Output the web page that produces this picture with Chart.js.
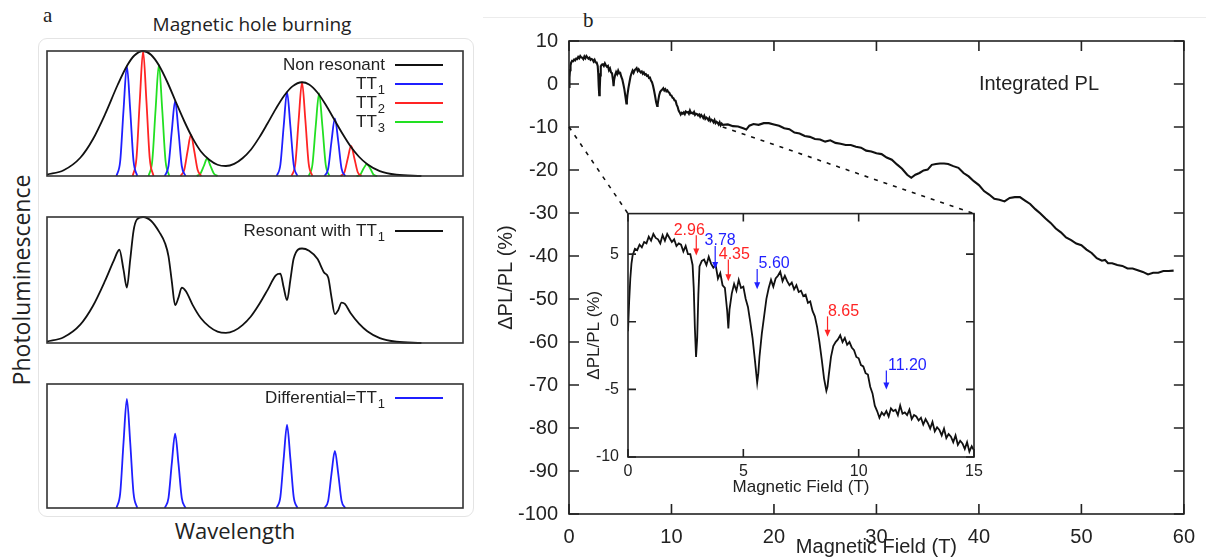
<!DOCTYPE html>
<html>
<head>
<meta charset="utf-8">
<script src="https://cdn.jsdelivr.net/npm/chart.js@4.4.1/dist/chart.umd.min.js"></script>
<style>
  body { margin: 0; background: #fff; width: 1206px; height: 559px; overflow: hidden; position: relative; font-family: "Liberation Sans", Arial, sans-serif; color: #222; }
  .abs { position: absolute; }
  .box { position: absolute; }
  #frameA { left: 38px; top: 38px; width: 434px; height: 477px; border: 1px solid #e4e4e4; border-radius: 9px; }
  #topRule { left: 483px; top: 17px; width: 723px; height: 1px; background: #ececec; }
  .serif { font-family: "Liberation Serif", "Times New Roman", serif; font-size: 21px; line-height: 1; }
  .sans { font-family: "Open Sans", "Noto Sans", sans-serif; line-height: 1; white-space: nowrap; }
</style>
</head>
<body>
<div class="abs" id="frameA"></div>
<div class="abs" id="topRule"></div>
<div class="abs serif" style="left:43px;top:5px;">a</div>
<div class="abs serif" style="left:583px;top:10px;">b</div>
<div class="abs sans" style="left:252px;top:15px;font-size:19px;transform:translateX(-50%);">Magnetic hole burning</div>
<div class="abs sans" style="left:235px;top:519px;font-size:22px;transform:translateX(-50%);">Wavelength</div>
<div class="abs sans" style="left:21px;top:280px;font-size:23px;transform:translate(-50%,-50%) rotate(-90deg);">Photoluminescence</div>

<div class="box" style="left:45px;top:49px;width:420px;height:129px;"><canvas id="sub1"></canvas></div>
<div class="box" style="left:45px;top:215px;width:420px;height:130px;"><canvas id="sub2"></canvas></div>
<div class="box" style="left:45px;top:382px;width:420px;height:128px;"><canvas id="sub3"></canvas></div>

<div class="box" style="left:483px;top:0px;width:723px;height:559px;"><canvas id="main"></canvas></div>
<div class="box" style="left:583px;top:195px;width:410px;height:305px;"><canvas id="inset"></canvas></div>

<script>
// ---- panel a: schematic spectra (wavelength in arbitrary units 0..100) ----
const envX = [0,4,8,11,14,17,19.2,21,23.1,25,27,29,31,33,35,37,39,41,43,45,47,49,51,53,55,57,59,61.3,63,65,67,69,71,73,75,77,80,84,90];
const envY = [0.011,0.046,0.146,0.292,0.497,0.73,0.88,0.964,1.0,0.97,0.88,0.746,0.59,0.438,0.303,0.196,0.13,0.09,0.08,0.097,0.142,0.21,0.307,0.42,0.537,0.642,0.717,0.75,0.732,0.668,0.57,0.455,0.34,0.236,0.154,0.094,0.039,0.01,0.0];

const tt1X = [16.7,17.6,18.4,19.2,20.0,20.8,21.7, 21.7, 28.3,29.2,30.0,30.8,31.6,32.4,33.3, 33.3, 55.2,56.1,56.9,57.7,58.5,59.3,60.2, 60.2, 66.7,67.6,68.4,69.2,70.0,70.8,71.7];
const tt1Y = [0,0.12,0.53,0.88,0.53,0.12,0, null, 0,0.08,0.36,0.60,0.36,0.08,0, null, 0,0.09,0.40,0.67,0.40,0.09,0, null, 0,0.06,0.28,0.46,0.28,0.06,0];

const tt2X = [20.6,21.5,22.3,23.1,23.9,24.7,25.6, 25.6, 32.1,33.0,33.8,34.6,35.4,36.2,37.1, 37.1, 58.8,59.7,60.5,61.3,62.1,62.9,63.8, 63.8, 70.6,71.5,72.3,73.1,73.9,74.7,75.6];
const tt2Y = [0,0.14,0.60,1.0,0.60,0.14,0, null, 0,0.05,0.20,0.33,0.20,0.05,0, null, 0,0.10,0.45,0.75,0.45,0.10,0, null, 0,0.03,0.14,0.24,0.14,0.03,0];

const tt3X = [24.4,25.3,26.1,26.9,27.7,28.5,29.4, 29.4, 36.0,36.9,37.7,38.5,39.3,40.1,41.0, 41.0, 62.9,63.8,64.6,65.4,66.2,67.0,67.9, 67.9, 74.4,75.3,76.1,76.9,77.7,78.5,79.4];
const tt3Y = [0,0.12,0.53,0.89,0.53,0.12,0, null, 0,0.02,0.08,0.14,0.08,0.02,0, null, 0,0.09,0.40,0.66,0.40,0.09,0, null, 0,0.01,0.06,0.095,0.06,0.01,0];

const resX = [0,4,8,11,14,16,17.4,18.4,19.2,20.0,20.8,21.6,23.1,25,27,28.4,29.2,30.0,30.8,31.6,32.4,33.4,35,37,39,41,43,45,47,49,51,53,55,56.1,56.9,57.7,58.5,59.3,61.3,63,65,66.6,67.6,68.4,69.2,70.0,70.8,71.6,73,75,77,80,84,90];
const resY = [0.011,0.046,0.146,0.292,0.497,0.65,0.74,0.58,0.44,0.66,0.89,0.98,1.0,0.97,0.88,0.79,0.69,0.49,0.30,0.36,0.44,0.41,0.303,0.196,0.13,0.09,0.08,0.097,0.142,0.21,0.307,0.42,0.537,0.55,0.44,0.34,0.50,0.67,0.75,0.732,0.668,0.56,0.52,0.36,0.23,0.26,0.32,0.31,0.236,0.154,0.094,0.039,0.01,0.0];

// legend rows: [label, subscript]
const keyTop = [['Non resonant', ''], ['TT', '1'], ['TT', '2'], ['TT', '3']];
const keyMid = [['Resonant with TT', '1']];
const keyBot = [['Differential=TT', '1']];

// ---- panel b: integrated PL vs magnetic field ----
// low field part (also shown in the inset)
const fieldLow = [0.00,0.05,0.10,0.15,0.20,0.30,0.40,0.50,0.60,0.70,0.80,0.90,1.00,1.10,1.20,1.30,1.40,1.50,1.60,1.70,1.80,1.90,2.00,2.10,2.20,2.30,2.40,2.50,2.60,2.70,2.80,2.85,2.90,2.95,3.00,3.05,3.10,3.20,3.30,3.40,3.50,3.60,3.70,3.80,3.90,4.00,4.10,4.20,4.30,4.35,4.40,4.50,4.60,4.70,4.80,4.90,5.00,5.10,5.20,5.30,5.40,5.50,5.60,5.65,5.70,5.80,5.90,6.00,6.10,6.20,6.30,6.40,6.50,6.60,6.70,6.80,6.90,7.00,7.10,7.20,7.30,7.40,7.50,7.60,7.70,7.80,7.90,8.00,8.10,8.20,8.30,8.40,8.50,8.60,8.65,8.70,8.80,8.90,9.00,9.10,9.20,9.30,9.40,9.50,9.60,9.70,9.80,9.90,10.00,10.10,10.20,10.30,10.40,10.50,10.60,10.70,10.80,10.90,11.00,11.10,11.20,11.30,11.40,11.50,11.60,11.70,11.80,11.90,12.00,12.10,12.20,12.30,12.40,12.50,12.60,12.70,12.80,12.90,13.00,13.10,13.20,13.30,13.40,13.50,13.60,13.70,13.80,13.90,14.00,14.10,14.20,14.30,14.40,14.50,14.60,14.70,14.80,14.90,15.00];
const plLow = [
  -0.7, 1.5, 3.2, 4.3, 4.9,
  5.4, 5.3, 5.7, 5.5, 5.9, 5.8, 6.3, 6.0, 6.5, 6.2, 6.1, 5.8, 6.4, 6.0, 6.5, 6.2, 5.9, 6.1, 5.6, 5.8, 5.7, 5.2, 5.6, 5.0, 5.0, 4.2,
  2.5, -0.5, -2.6, -1.2, 2.0,
  4.1, 4.5, 4.6, 4.2, 4.8, 4.3, 4.0, 4.2, 3.2, 3.6, 2.7, 2.5, 0.8,
  -0.5,
  0.9, 2.1, 2.8, 2.3, 3.1, 2.5, 2.6, 1.7, 1.1, 0.0, -1.2, -2.8, -4.5,
  -3.8,
  -2.6, -0.9, 0.4, 1.7, 2.5, 3.1, 2.6, 3.2, 3.4, 3.7, 3.0, 3.4, 3.0, 2.7, 2.9, 2.4, 2.7, 2.2, 2.3, 1.9, 2.0, 1.4, 1.5, 0.8, 0.4, -0.4, -1.5, -2.8, -4.2, -5.1,
  -4.8,
  -4.0, -2.6, -1.8, -1.5, -1.3, -1.0, -1.5, -1.2, -1.7, -1.5, -1.9, -2.1, -2.6, -2.7, -3.2, -3.3, -3.8, -3.9, -4.8, -5.3, -6.2, -6.6, -7.1, -6.7, -6.9, -6.6, -7.0, -6.4, -6.6, -6.5, -6.9, -6.2, -6.8, -6.7, -6.9, -6.5, -7.2, -6.9, -7.0, -7.3, -7.1, -7.6, -7.2, -7.5, -7.9, -7.4, -8.1, -7.8, -8.0, -8.4, -7.9, -8.6, -8.3, -8.5, -8.9, -8.4, -9.1, -8.8, -9.0, -9.4, -8.9, -9.6, -9.2, -9.5
];
// high field part
const fieldHigh = [15.5,16.0,16.5,17.0,17.3,17.6,18.0,18.5,19.0,19.5,20.0,20.5,21.0,21.5,22.0,22.5,23.0,23.5,24.0,24.5,25.0,25.5,26.0,26.5,27.0,27.5,28.0,28.5,29.0,29.5,30.0,30.5,31.0,31.5,32.0,32.5,33.0,33.4,33.8,34.2,34.6,35.0,35.4,35.8,36.2,36.6,37.0,37.5,38.0,38.5,39.0,39.5,40.0,40.5,41.0,41.5,42.0,42.5,43.0,43.5,44.0,44.5,45.0,45.5,46.0,46.5,47.0,47.5,48.0,48.5,49.0,49.5,50.0,50.5,51.0,51.5,52.0,52.3,52.6,53.0,53.5,54.0,54.5,55.0,55.5,56.0,56.5,57.0,57.5,58.0,58.5,59.0];
const plHigh = [-9.4,-9.8,-9.9,-10.3,-10.6,-9.7,-9.3,-9.5,-9.1,-9.1,-9.4,-9.7,-10.3,-10.5,-11.3,-11.5,-12.1,-12.3,-12.8,-12.9,-13.4,-13.1,-13.7,-13.9,-14.2,-14.2,-14.6,-14.8,-15.5,-15.7,-16.1,-16.3,-17.1,-17.6,-18.7,-19.7,-21.1,-21.8,-21.1,-20.7,-20.1,-19.9,-18.8,-18.6,-18.5,-18.5,-18.6,-19.1,-19.5,-20.7,-21.5,-22.6,-23.5,-24.9,-25.7,-26.7,-26.9,-27.3,-26.5,-26.3,-26.3,-27.1,-27.9,-29.1,-30.1,-31.3,-32.3,-33.6,-34.5,-35.7,-36.3,-37.1,-37.5,-38.5,-39.3,-40.5,-41.1,-40.9,-41.7,-41.7,-42.1,-42.3,-42.9,-42.9,-43.3,-43.7,-44.3,-43.9,-43.9,-43.5,-43.5,-43.4];

// marked resonances in the inset
const markField = [2.96, 3.78, 4.35, 5.60, 8.65, 11.20];
const markFrom = [6.4, 5.6, 4.6, 3.9, 0.4, -3.6];
const markTo = [4.9, 3.9, 3.0, 2.4, -1.1, -5.0];
const markSet = ['TT2', 'TT1', 'TT2', 'TT1', 'TT2', 'TT1'];

const COLORS = { TT1: '#1f1fff', TT2: '#ff2424', TT3: '#22e022', ink: '#111', axis: '#222' };

function pts(xs, ys) {
  return xs.map((x, i) => ({ x, y: ys[i] }));
}

// box frame + inward ticks on all four sides
const boxTicks = {
  id: 'boxTicks',
  afterDatasetsDraw(chart, args, o) {
    const { ctx, chartArea: a } = chart;
    ctx.save();
    ctx.strokeStyle = o.color || COLORS.axis;
    ctx.lineWidth = o.width || 1.5;
    ctx.strokeRect(a.left, a.top, a.right - a.left, a.bottom - a.top);
    if (o.tick) {
      const { x, y } = chart.scales;
      ctx.beginPath();
      x.ticks.forEach(t => {
        const p = x.getPixelForValue(t.value);
        ctx.moveTo(p, a.bottom); ctx.lineTo(p, a.bottom - o.tick);
        ctx.moveTo(p, a.top); ctx.lineTo(p, a.top + o.tick);
      });
      y.ticks.forEach(t => {
        const p = y.getPixelForValue(t.value);
        ctx.moveTo(a.left, p); ctx.lineTo(a.left + o.tick, p);
        ctx.moveTo(a.right, p); ctx.lineTo(a.right - o.tick, p);
      });
      ctx.stroke();
    }
    ctx.restore();
  }
};

// key drawn in the upper right of each schematic panel (with subscripts)
const schemeKey = {
  id: 'schemeKey',
  afterDatasetsDraw(chart, args, o) {
    if (!o.rows) return;
    const { ctx, chartArea: a } = chart;
    ctx.save();
    o.rows.forEach((r, i) => {
      const yc = a.top + 14 + i * 19;
      const right = a.right - 78;
      let end = right;
      if (r[1]) {
        ctx.font = '13px "Liberation Sans", Arial, sans-serif';
        ctx.fillStyle = COLORS.axis;
        ctx.textAlign = 'right';
        ctx.textBaseline = 'middle';
        ctx.fillText(r[1], right, yc + 6);
        end = right - ctx.measureText(r[1]).width - 1;
      }
      ctx.font = '17px "Liberation Sans", Arial, sans-serif';
      ctx.fillStyle = COLORS.axis;
      ctx.textAlign = 'right';
      ctx.textBaseline = 'middle';
      ctx.fillText(r[0], end, yc);
      ctx.strokeStyle = o.colors[i];
      ctx.lineWidth = 1.8;
      ctx.beginPath();
      ctx.moveTo(a.right - 68, yc);
      ctx.lineTo(a.right - 20, yc);
      ctx.stroke();
    });
    ctx.restore();
  }
};

function lineSet(data, color) {
  return {
    data, borderColor: color, borderWidth: 1.8, pointRadius: 0,
    cubicInterpolationMode: 'monotone', spanGaps: false, clip: false
  };
}

function schemeChart(id, datasets, rows, colors) {
  return new Chart(document.getElementById(id), {
    type: 'line',
    data: { datasets },
    options: {
      responsive: true, maintainAspectRatio: false, animation: false,
      layout: { padding: 2 },
      scales: {
        x: { type: 'linear', min: 0, max: 100, display: false },
        y: { min: 0, max: 1, display: false }
      },
      plugins: {
        legend: { display: false }, tooltip: { enabled: false },
        boxTicks: { color: '#333', width: 1.6 },
        schemeKey: { rows, colors }
      }
    },
    plugins: [boxTicks, schemeKey]
  });
}

schemeChart('sub1', [
  lineSet(pts(envX, envY), COLORS.ink),
  lineSet(pts(tt1X, tt1Y), COLORS.TT1),
  lineSet(pts(tt2X, tt2Y), COLORS.TT2),
  lineSet(pts(tt3X, tt3Y), COLORS.TT3)
], keyTop, [COLORS.ink, COLORS.TT1, COLORS.TT2, COLORS.TT3]);

schemeChart('sub2', [lineSet(pts(resX, resY), COLORS.ink)], keyMid, [COLORS.ink]);

schemeChart('sub3', [lineSet(pts(tt1X, tt1Y), COLORS.TT1)], keyBot, [COLORS.TT1]);

// ---- inset ----
const markers = {
  id: 'markers',
  afterDatasetsDraw(chart) {
    const { ctx, scales: { x, y } } = chart;
    const labelDx = [-7, 5, 6, 17, 16, 21];
    ctx.save();
    ctx.font = '16px "Liberation Sans", Arial, sans-serif';
    ctx.textAlign = 'center';
    ctx.textBaseline = 'middle';
    markField.forEach((f, i) => {
      const c = COLORS[markSet[i]];
      const px = x.getPixelForValue(f);
      const y1 = y.getPixelForValue(markFrom[i]);
      const y2 = y.getPixelForValue(markTo[i]);
      ctx.strokeStyle = c; ctx.fillStyle = c; ctx.lineWidth = 1.2;
      ctx.beginPath(); ctx.moveTo(px, y1); ctx.lineTo(px, y2 - 5); ctx.stroke();
      ctx.beginPath(); ctx.moveTo(px - 3, y2 - 7); ctx.lineTo(px + 3, y2 - 7); ctx.lineTo(px, y2); ctx.closePath(); ctx.fill();
      ctx.fillText(f.toFixed(2), px + labelDx[i], y1 - 5);
    });
    ctx.restore();
  }
};

const insetFont = { family: '"Liberation Sans", Arial, sans-serif', size: 16 };
const insetChart = new Chart(document.getElementById('inset'), {
  type: 'line',
  data: { datasets: [{ data: pts(fieldLow, plLow), borderColor: COLORS.ink, borderWidth: 1.8, pointRadius: 0, tension: 0 }] },
  options: {
    responsive: true, maintainAspectRatio: false, animation: false,
    layout: { padding: { top: 10, right: 19 } },
    scales: {
      x: {
        type: 'linear', min: 0, max: 15,
        ticks: { stepSize: 5, padding: 5, color: COLORS.axis, font: insetFont },
        grid: { display: false, drawTicks: false }, border: { display: false },
        title: { display: true, text: 'Magnetic Field (T)', color: COLORS.axis, font: { ...insetFont, size: 17 }, padding: { top: 0, bottom: 2 } },
        afterFit(s) { s.height = 43; }
      },
      y: {
        type: 'linear', min: -10, max: 8,
        ticks: { stepSize: 5, includeBounds: false, padding: 9, color: COLORS.axis, font: insetFont },
        grid: { display: false, drawTicks: false }, border: { display: false },
        title: { display: true, text: 'ΔPL/PL (%)', color: COLORS.axis, font: { ...insetFont, size: 17 }, padding: { top: 1, bottom: 0 } },
        afterFit(s) { s.width = 45; }
      }
    },
    plugins: { legend: { display: false }, tooltip: { enabled: false }, boxTicks: { tick: 8, width: 1.6 } }
  },
  plugins: [boxTicks, markers]
});

// ---- main ----
const noteText = 'Integrated PL';
const noteAt = [40, 0];
const zoomAt = -10;

const mainExtras = {
  id: 'mainExtras',
  afterDatasetsDraw(chart) {
    const { ctx, scales: { x, y } } = chart;
    ctx.save();
    ctx.font = '20px "Liberation Sans", Arial, sans-serif';
    ctx.fillStyle = COLORS.axis;
    ctx.textAlign = 'left';
    ctx.textBaseline = 'middle';
    ctx.fillText(noteText, x.getPixelForValue(noteAt[0]), y.getPixelForValue(noteAt[1]));
    // connectors to the inset frame
    const mr = chart.canvas.getBoundingClientRect();
    const ir = insetChart.canvas.getBoundingClientRect();
    const ia = insetChart.chartArea;
    const ix = insetChart.scales.x;
    const dx = ir.left - mr.left, dy = ir.top - mr.top;
    ctx.strokeStyle = COLORS.ink;
    ctx.lineWidth = 1.6;
    ctx.setLineDash([4, 6]);
    ctx.beginPath();
    ctx.moveTo(x.getPixelForValue(ix.min), y.getPixelForValue(zoomAt));
    ctx.lineTo(ia.left + dx, ia.top + dy);
    ctx.moveTo(x.getPixelForValue(ix.max), y.getPixelForValue(zoomAt));
    ctx.lineTo(ia.right + dx, ia.top + dy);
    ctx.stroke();
    ctx.restore();
  }
};

const mainFont = { family: '"Liberation Sans", Arial, sans-serif', size: 20 };
new Chart(document.getElementById('main'), {
  type: 'line',
  data: { datasets: [{ data: pts(fieldLow.concat(fieldHigh), plLow.concat(plHigh)), borderColor: COLORS.ink, borderWidth: 2.1, pointRadius: 0, tension: 0 }] },
  options: {
    responsive: true, maintainAspectRatio: false, animation: false,
    layout: { padding: { top: 41, right: 19 } },
    scales: {
      x: {
        type: 'linear', min: 0, max: 60,
        ticks: { stepSize: 10, padding: 11, color: COLORS.axis, font: mainFont },
        grid: { display: false, drawTicks: false }, border: { display: false },
        title: { display: true, text: 'Magnetic Field (T)', color: COLORS.axis, font: mainFont, padding: { top: 0, bottom: 0 } },
        afterFit(s) { s.height = 45; }
      },
      y: {
        type: 'linear', min: -100, max: 10,
        ticks: { stepSize: 10, padding: 11, color: COLORS.axis, font: mainFont },
        grid: { display: false, drawTicks: false }, border: { display: false },
        title: { display: true, text: 'ΔPL/PL (%)', color: COLORS.axis, font: mainFont, padding: { top: 11, bottom: 0 } },
        afterFit(s) { s.width = 86; }
      }
    },
    plugins: { legend: { display: false }, tooltip: { enabled: false }, boxTicks: { tick: 10, width: 1.6 } }
  },
  plugins: [boxTicks, mainExtras]
});
</script>
</body>
</html>
